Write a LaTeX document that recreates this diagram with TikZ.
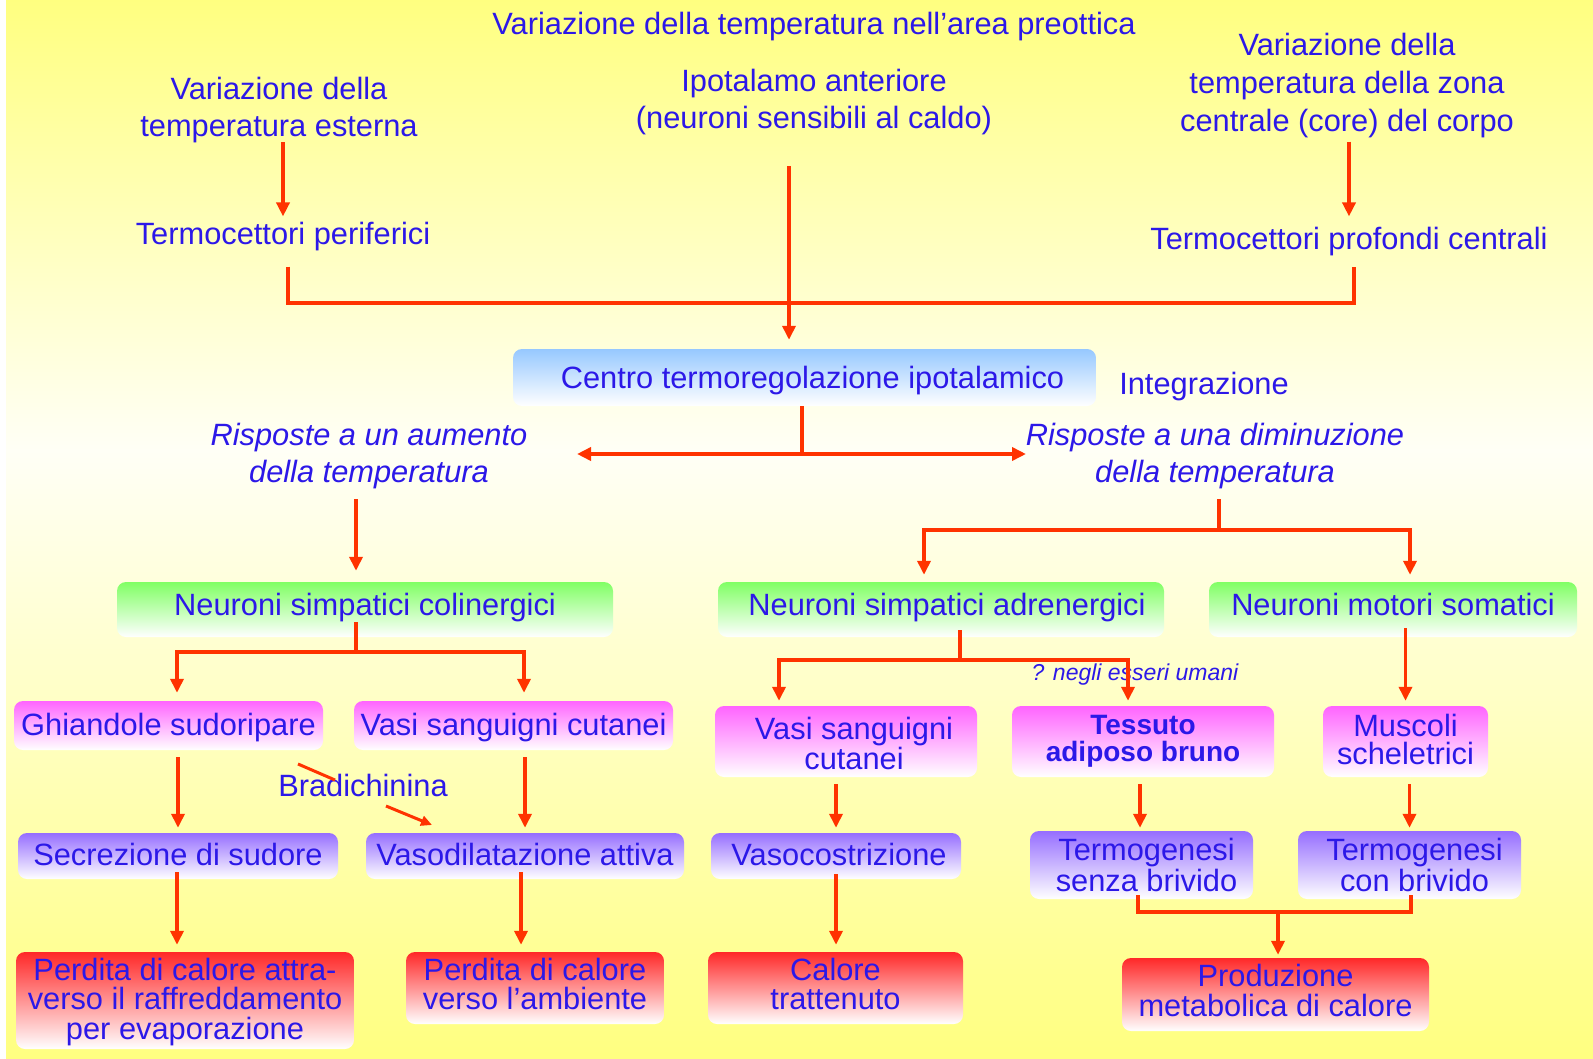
\documentclass[tikz,border=0pt]{standalone}
\usepackage{fontspec}
\setmainfont{Liberation Sans}
\usetikzlibrary{arrows.meta,calc}

\definecolor{tblue}{RGB}{44,24,232}
\definecolor{arrred}{RGB}{255,51,0}
\definecolor{bgY}{RGB}{255,255,128}
\definecolor{bgW}{RGB}{255,255,246}
\definecolor{cBlue}{RGB}{150,200,255}
\definecolor{cGreen}{RGB}{128,255,100}
\definecolor{cMag}{RGB}{255,100,255}
\definecolor{cVio}{RGB}{150,110,255}
\definecolor{cRed}{RGB}{255,40,40}

\newcommand\lowstrut{\rule[-8pt]{0pt}{8pt}}
\newcommand\highstrut{\rule{0pt}{24.5pt}}

\tikzset{
  txt/.style={text=tblue, font=\fontsize{30.8}{37.6}\selectfont, align=center, inner sep=0pt},
  lh/.style={font=\fontsize{30.8}{#1}\selectfont},
  box/.style={txt, rounded corners=9pt, top color=#1, bottom color=white},
  gbox/.style={box=cGreen, minimum height=55pt, text height=22.5pt, text depth=10.5pt},
  mbox/.style={box=cMag, minimum height=49pt, text height=26.5pt, text depth=6.5pt},
  vbox/.style={box=cVio, minimum height=46pt, text height=22.5pt, text depth=4pt},
  ln/.style={draw=arrred, line width=3.5pt},
  arr/.style={ln, -{Triangle[length=14pt,width=13pt]}},
  thinarr/.style={draw=arrred, line width=3pt, -{Triangle[length=11pt,width=10pt]}},
}

\begin{document}
\begin{tikzpicture}[x=1pt,y=-1pt]
\useasboundingbox (0,0) rectangle (1593,1059);
% background
\shade[top color=bgY, bottom color=bgW] (0,0) rectangle (1593,450);
\shade[top color=bgW, bottom color=bgY] (0,450) rectangle (1593,1059);
\fill[white] (0,0) rectangle (6,1059);

% top texts
\node[txt] (title) at (814,27) {Variazione della temperatura nell’area preottica};
\node[txt] (ext) at (279,110) {Variazione della\\temperatura esterna};
\node[txt] (ipo) at (814,102) {Ipotalamo anteriore\\(neuroni sensibili al caldo)};
\node[txt] (core) at (1347,85.5) {Variazione della\\temperatura della zona\\centrale (core) del corpo};
\node[txt] (tper) at (283,237) {Termocettori periferici};
\node[txt] (tcen) at (1349,242) {Termocettori profondi centrali};

% integration
\node[box=cBlue, minimum width=583pt, minimum height=57pt, text height=28.5pt, text depth=6.5pt] (centro) at (804.5,377.5) {\hspace*{16pt}Centro termoregolazione ipotalamico};
\node[txt] (integ) at (1204,387) {Integrazione};
\node[txt, font=\fontsize{30.8}{37.6}\selectfont\itshape] (risup) at (369,456) {Risposte a un aumento\\della temperatura};
\node[txt, font=\fontsize{30.8}{37.6}\selectfont\itshape] (risdown) at (1215,456) {Risposte a una diminuzione\\della temperatura};

% green
\node[gbox, minimum width=496pt] (col) at (365,609.5) {Neuroni simpatici colinergici};
\node[gbox, minimum width=446pt] (adr) at (941,609.5) {\hspace*{12pt}Neuroni simpatici adrenergici};
\node[gbox, minimum width=368pt] (mot) at (1393,609.5) {Neuroni motori somatici};

% magenta
\node[mbox, minimum width=309pt] (ghi) at (168.5,725.5) {Ghiandole sudoripare};
\node[mbox, minimum width=319pt] (vasi1) at (513.5,725.5) {Vasi sanguigni cutanei};
\node[box=cMag, lh=27.4, minimum width=262pt, minimum height=71pt] (vasi2) at (846,741.5) {\rule{0pt}{26.5pt}\hspace*{16pt}Vasi sanguigni\\\hspace*{16pt}cutanei};
\node[box=cMag, font=\fontsize{28}{27.4}\selectfont\bfseries, minimum width=262pt, minimum height=71pt] (tess) at (1143,741.5) {Tessuto\\adiposo bruno};
\node[box=cMag, lh=27.4, minimum width=165pt, minimum height=71pt] (musc) at (1405.5,741.5) {Muscoli\\scheletrici\rule[-4pt]{0pt}{4pt}};

% violet
\node[vbox, minimum width=320pt] (secr) at (178,856) {Secrezione di sudore};
\node[vbox, minimum width=318pt] (vasod) at (525,856) {Vasodilatazione attiva};
\node[vbox, minimum width=250pt] (vasoc) at (836,856) {\hspace*{6pt}Vasocostrizione};
\node[box=cVio, lh=31.5, minimum width=223pt, minimum height=68pt] (tsenza) at (1141.5,865) {\hspace*{10pt}Termogenesi\\\hspace*{10pt}senza brivido};
\node[box=cVio, lh=31.5, minimum width=223pt, minimum height=68pt] (tcon) at (1409.5,865) {\hspace*{10pt}Termogenesi\\\hspace*{10pt}con brivido};

% red
\node[box=cRed, lh=29.5, minimum width=338pt, minimum height=97pt] (perd1) at (185,1000.5) {\highstrut Perdita di calore attra-\\verso il raffreddamento\\per evaporazione};
\node[box=cRed, lh=29.5, minimum width=258pt, minimum height=72pt] (perd2) at (535,988) {Perdita di calore\\verso l’ambiente\lowstrut};
\node[box=cRed, lh=29.5, minimum width=255pt, minimum height=72pt] (cal) at (835.5,988) {Calore\\trattenuto\lowstrut};
\node[box=cRed, lh=30.5, minimum width=307pt, minimum height=73pt] (prod) at (1275.5,994.5) {Produzione\\metabolica di calore\lowstrut};

% small labels
\node[txt] (brad) at (363,785) {Bradichinina};
\node[txt, font=\fontsize{23}{27}\selectfont\itshape] (nega) at (1135,675) {? negli esseri umani};

% junctions
\coordinate (jtop) at (789,303);
\coordinate (jmid) at (802,454);
\coordinate (aL) at (577,454);
\coordinate (aR) at (1026,454);
\coordinate (jr) at (1219,530);
\coordinate (jc) at (356,652);
\coordinate (ja) at (960,660);
\coordinate (jb) at (1278,912);

% connectors top
\draw[arr, shorten <=-1pt, shorten >=6pt] (ext.south -| tper.north) -- (tper.north);
\draw[arr, shorten <=4pt, shorten >=11pt] (core.south -| tcen.north) -- (tcen.north);
\draw[ln, shorten <=15pt, shorten >=10pt] ([xshift=5pt]tper.south) |- (jtop) -| ([xshift=5pt]tcen.south);
\draw[arr, shorten <=31pt, shorten >=9pt] (jtop |- ipo.south) -- (jtop |- centro.north);

% integration branches
\draw[ln] (jmid |- centro.south) -- (jmid);
\draw[arr] (jmid) -- (aL);
\draw[arr] (jmid) -- (aR);

% left column
\draw[arr, shorten <=10pt, shorten >=11pt] ([xshift=-13pt]risup.south) -- ([xshift=-13pt]risup.south |- col.north);
\draw[ln, shorten <=-15pt] (jc |- col.south) -- (jc);
\draw[arr, shorten >=8pt] (jc) -| ([xshift=8.5pt]ghi.north);
\draw[arr, shorten >=8pt] (jc) -| ([xshift=10.5pt]vasi1.north);
\draw[arr, shorten <=7pt, shorten >=5pt] (secr.north |- ghi.south) -- (secr.north);
\draw[arr, shorten <=7pt, shorten >=5pt] (vasod.north |- vasi1.south) -- (vasod.north);
\draw[arr, shorten <=-7pt, shorten >=7pt] ([xshift=-1pt]secr.south) -- ([xshift=-1pt]secr.south |- perd1.north);
\draw[arr, shorten <=-7pt, shorten >=7pt] ([xshift=-4pt]vasod.south) -- ([xshift=-4pt]vasod.south |- perd2.north);
\draw[ln, line width=3pt] ($(brad.center)+(-65,-21)$) -- ($(brad.center)+(-28,-5)$);
\draw[thinarr] ($(brad.center)+(23,21)$) -- ($(brad.center)+(69,40)$);

% right side
\draw[ln, shorten <=10pt] (jr |- risdown.south) -- (jr);
\draw[arr, shorten >=7pt] (jr) -| ([xshift=-17pt]adr.north);
\draw[arr, shorten >=7pt] (jr) -| ([xshift=17pt]mot.north);
\draw[ln, shorten <=-7pt] (ja |- adr.south) -- (ja);
\draw[arr, shorten >=5pt] (ja) -| ([xshift=-67pt]vasi2.north);
\draw[arr, shorten >=5pt] (ja) -| ([xshift=-15pt]tess.north);
\draw[arr, shorten <=-9pt, shorten >=5pt] (musc.north |- mot.south) -- (musc.north);
\draw[arr, shorten <=7pt, shorten >=5pt] (vasoc.north |- vasi2.south) -- (vasoc.north);
\draw[arr, shorten <=7pt, shorten >=3pt] ([xshift=-3pt]tess.south) -- ([xshift=-3pt]tess.south |- tsenza.north);
\draw[arr, shorten <=7pt, shorten >=3pt] (tcon.north |- musc.south) -- (tcon.north);
\draw[arr, shorten <=-5pt, shorten >=7pt] (vasoc.south) -- (vasoc.south |- cal.north);
\draw[ln, shorten <=-4pt, shorten >=-4pt] ([xshift=-3.5pt]tsenza.south) |- (jb) -| ([xshift=1.5pt]tcon.south);
\draw[arr, shorten >=3pt] (jb) -- (jb |- prod.north);
\end{tikzpicture}
\end{document}
